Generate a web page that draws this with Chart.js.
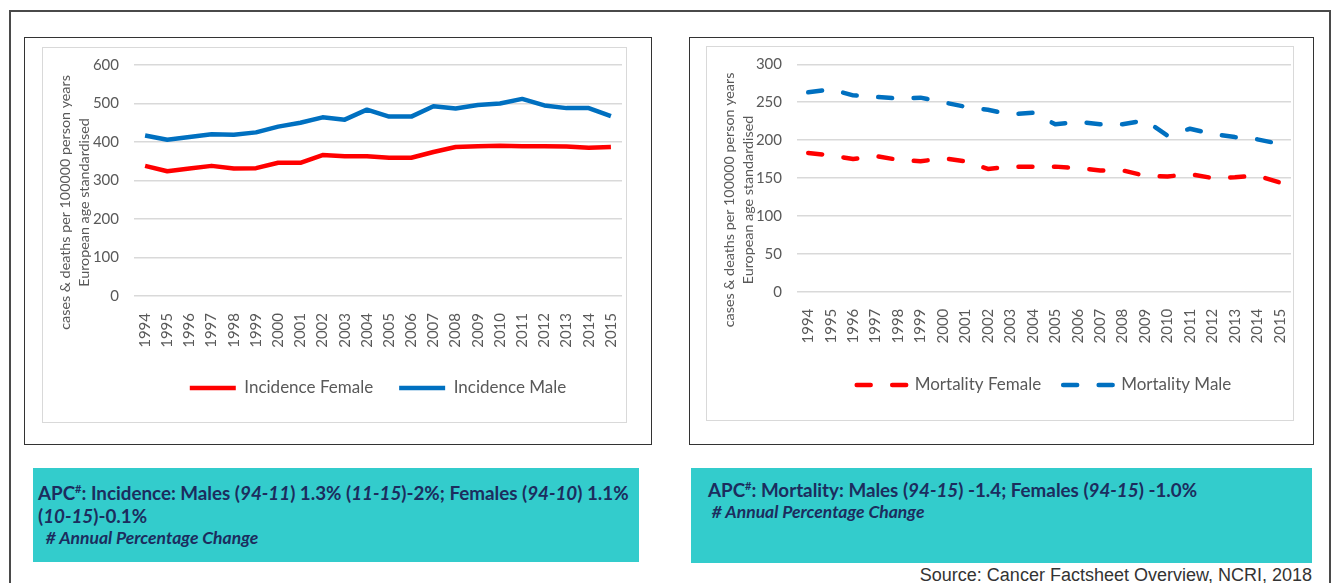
<!DOCTYPE html>
<html>
<head>
<meta charset="utf-8">
<script src="https://cdn.jsdelivr.net/npm/chart.js@4.4.1/dist/chart.umd.min.js"></script>
<style>
  body { margin: 0; background: #fff; font-family: Lato, sans-serif; }
  #page { position: relative; width: 1335px; height: 583px; overflow: hidden; }
  .outer { position: absolute; left: 9px; top: 10px; width: 1322px; height: 620px; border: 2px solid #4a4a4a; box-sizing: border-box; }
  .frame { position: absolute; border: 1px solid #333; box-sizing: border-box; background: #fff; }
  .inner { position: absolute; border: 1.5px solid #d9d9d9; box-sizing: border-box; }
  canvas { position: absolute; }
  .apc { position: absolute; background: #33cccc; color: #1c2d5e; font-weight: bold; box-sizing: border-box; }
  .apc .l1 { font-size: 18.8px; line-height: 23px; }
  .apc .note { font-size: 17.5px; font-style: italic; line-height: 22px; }
  .apc sup { font-size: 11px; vertical-align: 7px; line-height: 0; }
  .src { position: absolute; right: 23px; top: 565px; font-family: "Liberation Sans", Arial, sans-serif; font-size: 18px; line-height: 21px; color: #333; }
</style>
</head>
<body>
<div id="page">
  <div class="outer"></div>

  <div class="frame" style="left:24px;top:37px;width:628px;height:408px;"></div>
  <div class="inner" style="left:42px;top:47px;width:585px;height:376px;"></div>
  <canvas id="incChart" width="584" height="375" style="left:42px;top:47px;"></canvas>

  <div class="frame" style="left:689px;top:37px;width:625px;height:408px;"></div>
  <div class="inner" style="left:706px;top:46px;width:588px;height:375px;"></div>
  <canvas id="morChart" width="587" height="374" style="left:706px;top:46px;"></canvas>

  <div class="apc" style="left:33px;top:468px;width:606px;height:94px;padding:13px 0 0 5px;">
    <div class="l1">APC<sup>#</sup>: Incidence: Males (<i>94-11</i>) 1.3% (<i>11-15</i>)-2%; Females (<i>94-10</i>) 1.1%<br>(<i>10-15</i>)-0.1%</div>
    <div class="note">&nbsp; # Annual Percentage Change</div>
  </div>
  <div class="apc" style="left:691px;top:468px;width:621px;height:95px;padding:10px 0 0 17px;">
    <div class="l1">APC<sup>#</sup>: Mortality: Males (<i>94-15</i>) -1.4; Females (<i>94-15</i>) -1.0%</div>
    <div class="note">&nbsp;# Annual Percentage Change</div>
  </div>

  <div class="src">Source: Cancer Factsheet Overview, NCRI, 2018</div>
</div>

<script>
// ---------------- Data ----------------
const years = ["1994","1995","1996","1997","1998","1999","2000","2001","2002","2003","2004",
               "2005","2006","2007","2008","2009","2010","2011","2012","2013","2014","2015"];

const incidenceFemale = [338,324,331,338,331,332,346,346,366,363,363,359,359,374,387,389,390,389,389,388,385,387];
const incidenceMale   = [417,406,413,420,419,425,440,450,464,458,484,466,466,493,487,496,500,512,495,488,488,467];

const mortalityFemale = [183,180,175,179,174,172,176,172,162,165,165,165,163,160,160,153,152,155,150,151,153,144];
const mortalityMale   = [263,267,259,257,255,256,250,244,240,234,236,221,224,221,221,226,206,215,208,204,201,195];

const incidenceTicks = { max: 600, step: 100 };
const mortalityTicks = { max: 300, step: 50 };

const yTitle = ["cases & deaths per 100000 person years", "European age standardised"];

const RED = "#ff0000";
const BLUE = "#0070c0";
const TXT = "#595959";
const GRID = "#d9d9d9";

// shift the rotated title down a little (Excel centres it lower than the plot centre)
const padTitle = s => s + " ".repeat(12);

// legend entries drawn as line samples, keeping each dataset's dash
function lineLabels(chart) {
  const items = Chart.defaults.plugins.legend.labels.generateLabels(chart);
  items.forEach(it => {
    const ds = chart.data.datasets[it.datasetIndex];
    it.lineDash = ds.borderDash || [];
    it.lineCap = ds.borderCapStyle || "butt";
    it.lineWidth = ds.borderWidth;
    it.strokeStyle = ds.borderColor;
    it.pointStyle = "line";
  });
  return items;
}

function makeChart(id, datasets, ticks, lay) {
  const ctx = document.getElementById(id).getContext("2d");
  return new Chart(ctx, {
    type: "line",
    data: { labels: years, datasets: datasets },
    options: {
      responsive: false,
      animation: false,
      devicePixelRatio: 1,
      layout: { padding: { left: 0, top: lay.top, right: lay.right, bottom: lay.bottom } },
      elements: { point: { radius: 0 }, line: { tension: 0, borderJoinStyle: "round" } },
      plugins: {
        tooltip: { enabled: false },
        legend: {
          position: "bottom",
          fullSize: false,
          labels: {
            usePointStyle: true,
            pointStyle: "line",
            pointStyleWidth: lay.legendW,
            padding: lay.legendPad,
            color: TXT,
            font: { family: "Lato", size: 17 },
            generateLabels: lineLabels
          }
        }
      },
      scales: {
        x: {
          offset: true,
          grid: { display: false },
          border: { display: false },
          ticks: {
            color: TXT, font: { family: "Lato", size: 15 },
            minRotation: 90, maxRotation: 90, padding: 9, autoSkip: false
          },
          afterFit: s => { s.height = lay.xH; s.paddingLeft = 0; s.paddingRight = 0; }
        },
        y: {
          min: 0, max: ticks.max,
          border: { display: false },
          grid: { color: GRID, lineWidth: 1.5, drawTicks: false },
          ticks: { stepSize: ticks.step, color: TXT, font: { family: "Lato", size: 15 }, padding: 15 },
          title: {
            display: true,
            text: yTitle.map(padTitle),
            color: TXT,
            font: { family: "Lato", size: 14.3, lineHeight: 19 / 14.3 },
            padding: { top: 13.5, bottom: 0 }
          },
          afterFit: s => { s.width = lay.yW; s.paddingTop = 0; s.paddingBottom = 0; }
        }
      }
    }
  });
}

// ---------------- Incidence ----------------
makeChart("incChart", [
  { label: "Incidence Female", data: incidenceFemale, borderColor: RED, backgroundColor: RED, borderWidth: 4.5 },
  { label: "Incidence Male", data: incidenceMale, borderColor: BLUE, backgroundColor: BLUE, borderWidth: 4.5 }
], incidenceTicks, { top: 18, right: 4, bottom: 15.5, xH: 57.5, yW: 92, legendW: 46, legendPad: 26 });

// ---------------- Mortality ----------------
const dash = [14, 21.5];
makeChart("morChart", [
  { label: "Mortality Female", data: mortalityFemale, borderColor: RED, backgroundColor: RED, borderWidth: 4.5,
    borderDash: dash, borderCapStyle: "round" },
  { label: "Mortality Male", data: mortalityMale, borderColor: BLUE, backgroundColor: BLUE, borderWidth: 4.5,
    borderDash: dash, borderCapStyle: "round" }
], mortalityTicks, { top: 18.3, right: 2, bottom: 16.5, xH: 62.8, yW: 91, legendW: 49.5, legendPad: 22 });
</script>
</body>
</html>
